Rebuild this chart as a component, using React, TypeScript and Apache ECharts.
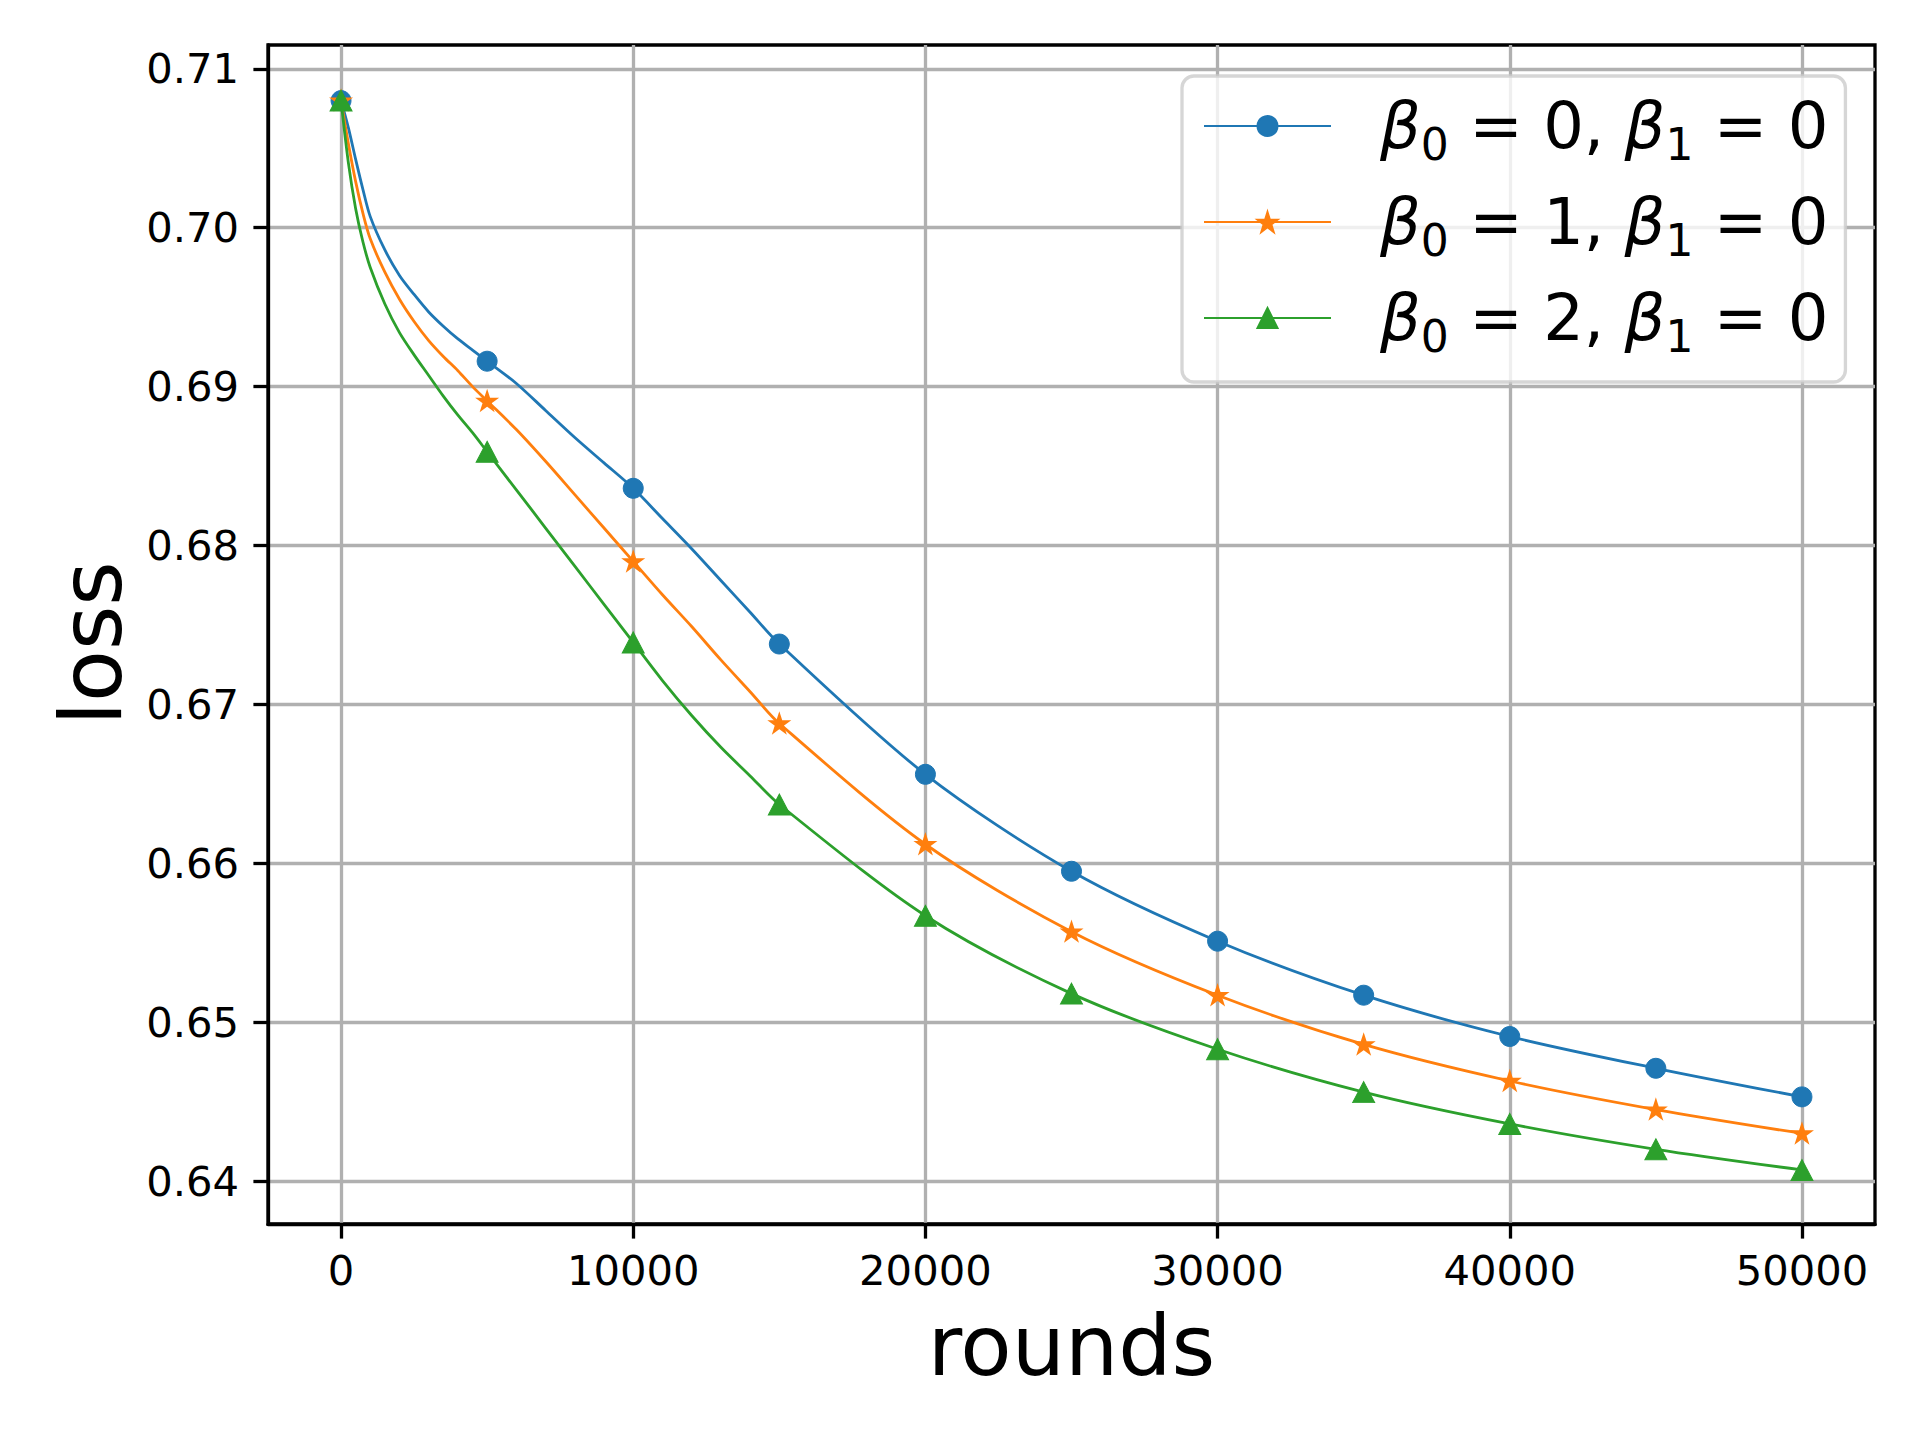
import React, { useEffect, useRef } from "react";
import * as echarts from "echarts";

// rounds at which the curves were read (markers every 5000)
const rounds = [
  0, 250, 500, 750, 1000, 1500, 2000, 2500, 3000, 3500, 4000, 4500, 5000,
  6000, 7000, 8000, 9000, 10000, 11000, 12000, 13000, 14000, 15000,
  20000, 25000, 30000, 35000, 40000, 45000, 50000,
];
const lossB0 = [
  0.708, 0.7063, 0.7043, 0.7024, 0.7007, 0.6986, 0.697, 0.6958, 0.6947, 0.6938, 0.693, 0.6923, 0.6916,
  0.6902, 0.6885, 0.6868, 0.6852, 0.6836, 0.6817, 0.6798, 0.6778, 0.6758, 0.6738,
  0.6656, 0.6595, 0.6551, 0.6517, 0.6491, 0.6471, 0.6453,
];
const lossB1 = [
  0.708, 0.7053, 0.7029, 0.7009, 0.6993, 0.6972, 0.6955, 0.6941, 0.6929, 0.6919, 0.691, 0.69, 0.6891,
  0.6873, 0.6853, 0.6832, 0.6811, 0.679, 0.6769, 0.6749, 0.6728, 0.6708, 0.6688,
  0.6612, 0.6557, 0.6517, 0.6486, 0.6463, 0.6445, 0.643,
];
const lossB2 = [
  0.708, 0.7041, 0.7012, 0.6991, 0.6975, 0.6952, 0.6934, 0.692, 0.6907, 0.6894, 0.6882, 0.6871, 0.6859,
  0.6835, 0.6811, 0.6787, 0.6763, 0.6739, 0.6715, 0.6693, 0.6673, 0.6655, 0.6637,
  0.6567, 0.6518, 0.6483, 0.6456, 0.6436, 0.642, 0.6407,
];
const seriesNames = ["β0 = 0, β1 = 0", "β0 = 1, β1 = 0", "β0 = 2, β1 = 0"];
const xTicks = [0, 10000, 20000, 30000, 40000, 50000];
const yTicks = [0.64, 0.65, 0.66, 0.67, 0.68, 0.69, 0.7, 0.71];
const markerEvery = 5000;

const STAR =
  "path://M0,-100L22.45,-30.9L95.11,-30.9L36.33,11.8L58.78,80.9L0,38.2L-58.78,80.9L-36.33,11.8L-95.11,-30.9L-22.45,-30.9Z";

const FONT = "DejaVu Sans";

export default function App() {
  const ref = useRef<HTMLDivElement>(null);
  useEffect(() => {
    const chart = echarts.init(ref.current as HTMLDivElement, null, { renderer: "svg" });
    const mk = (
      vals: number[],
      name: string,
      color: string,
      symbol: string,
      size: number | number[],
      edge: number
    ) => ({
      type: "line",
      name,
      data: rounds.map((r, i) =>
        r % markerEvery === 0 ? { value: [r, vals[i]] } : { value: [r, vals[i]], symbol: "none" }
      ),
      smooth: 0.3,
      symbol,
      symbolSize: size,
      showSymbol: true,
      lineStyle: { color, width: 2.8 },
      itemStyle: { color, borderColor: color, borderWidth: edge },
      emphasis: { disabled: true },
    });
    const axisCommon = {
      axisLine: { show: true, onZero: false, lineStyle: { color: "#000", width: 3.3 } },
      axisTick: { show: true, length: 14.6, lineStyle: { color: "#000", width: 3.3 } },
      splitLine: { show: true, lineStyle: { color: "#b0b0b0", width: 3.3 } },
    };
    chart.setOption({
      animation: false,
      backgroundColor: "#ffffff",
      textStyle: { fontFamily: FONT },
      grid: {
        left: 268,
        right: 45,
        top: 45,
        bottom: 216,
        show: true,
        borderColor: "#000",
        borderWidth: 3.3,
        containLabel: false,
        outerBoundsMode: "none",
      },
      xAxis: {
        type: "value",
        min: -2500,
        max: 52500,
        name: "rounds",
        nameLocation: "middle",
        nameGap: 80,
        nameTextStyle: { fontSize: 84, color: "#000", fontFamily: FONT },
        ...axisCommon,
        axisTick: { ...axisCommon.axisTick, customValues: xTicks },
        axisLabel: {
          customValues: xTicks,
          fontSize: 41.7,
          color: "#000",
          fontFamily: FONT,
          margin: 25,
          formatter: (v: number) => String(v),
        },
      },
      yAxis: {
        type: "value",
        min: 0.6373,
        max: 0.7115,
        name: "loss",
        nameLocation: "middle",
        nameGap: 134,
        nameTextStyle: { fontSize: 85, color: "#000", fontFamily: FONT, padding: [0, 18, 0, 0] },
        ...axisCommon,
        axisTick: { ...axisCommon.axisTick, customValues: yTicks },
        axisLabel: {
          customValues: yTicks,
          fontSize: 41.7,
          color: "#000",
          fontFamily: FONT,
          margin: 29,
          formatter: (v: number) => v.toFixed(2),
        },
      },
      legend: {
        orient: "vertical",
        left: 1182,
        top: 76,
        padding: [18, 17, 24, 21],
        itemWidth: 127,
        itemHeight: 25,
        itemGap: 24,
        selectedMode: false,
        backgroundColor: "rgba(255,255,255,0.8)",
        borderColor: "rgba(204,204,204,0.8)",
        borderWidth: 3.3,
        borderRadius: 12,
        formatter: (name: string) => {
          const m = /β0 = (\d), β1 = (\d)/.exec(name);
          const a = m ? m[1] : "0";
          const b = m ? m[2] : "0";
          return `{b0|β}{s|0}{t| = ${a}, }{b|β}{s|1}{t| = ${b}}`;
        },
        textStyle: {
          fontFamily: FONT,
          color: "#000",
          fontSize: 64,
          rich: {
            b0: { fontSize: 64, fontStyle: "italic", lineHeight: 80, fontFamily: FONT, color: "#000", padding: [0, 0, 0, 44] },
            b: { fontSize: 64, fontStyle: "italic", lineHeight: 80, fontFamily: FONT, color: "#000" },
            s: { fontSize: 44, lineHeight: 42, verticalAlign: "bottom", fontFamily: FONT, color: "#000" },
            t: { fontSize: 64, lineHeight: 80, fontFamily: FONT, color: "#000" },
          },
        },
      },
      series: [
        mk(lossB0, seriesNames[0], "#1f77b4", "circle", 20, 1),
        mk(lossB1, seriesNames[1], "#ff7f0e", STAR, [15, 14.5], 3),
        mk(lossB2, seriesNames[2], "#2ca02c", "triangle", [22, 21], 1),
      ],
    });
    return () => chart.dispose();
  }, []);
  return (
    <div
      ref={ref}
      style={{ position: "absolute", left: 0, top: 0, width: 1920, height: 1440, background: "#fff" }}
    />
  );
}
